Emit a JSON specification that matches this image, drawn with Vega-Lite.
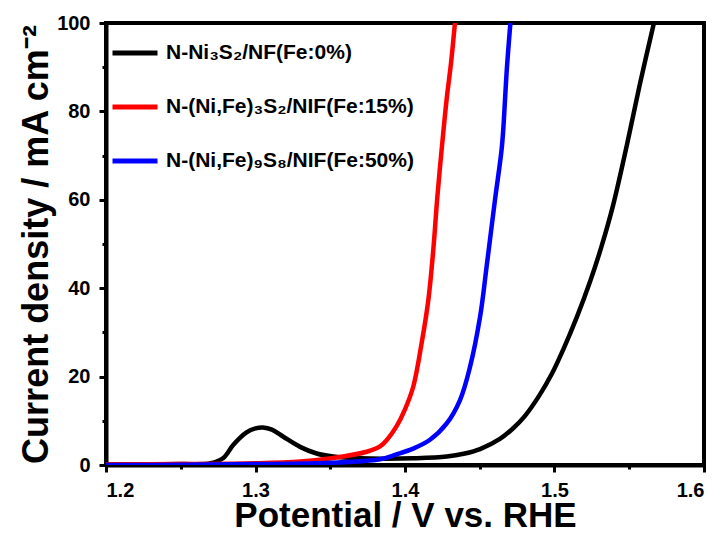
{
  "$schema": "https://vega.github.io/schema/vega-lite/v6.json",
  "autosize": "none",
  "width": 598,
  "height": 442,
  "padding": {"left": 106, "top": 23, "right": 17, "bottom": 68},
  "background": "white",
  "config": {
    "view": {"stroke": "black", "strokeWidth": 4},
    "font": "Liberation Sans",
    "axis": {
      "grid": false,
      "domainColor": "black",
      "domainWidth": 4,
      "tickColor": "black",
      "tickWidth": 3,
      "labelFont": "Liberation Sans",
      "labelFontWeight": "bold",
      "labelFontSize": 20,
      "labelColor": "black",
      "titleFont": "Liberation Sans",
      "titleFontWeight": "bold",
      "titleFontSize": 36,
      "titleColor": "black"
    },
    "legend": {
      "labelFont": "Liberation Sans",
      "labelFontWeight": "bold",
      "labelFontSize": 21,
      "labelColor": "black",
      "labelLimit": 400
    }
  },
  "data": {
    "values": [
      {"s": "N-Ni₃S₂/NF(Fe:0%)", "v": 1.20, "j": 0.1},
      {"s": "N-Ni₃S₂/NF(Fe:0%)", "v": 1.25, "j": 0.2},
      {"s": "N-Ni₃S₂/NF(Fe:0%)", "v": 1.27, "j": 0.4},
      {"s": "N-Ni₃S₂/NF(Fe:0%)", "v": 1.2785, "j": 1.6},
      {"s": "N-Ni₃S₂/NF(Fe:0%)", "v": 1.2852, "j": 4.6},
      {"s": "N-Ni₃S₂/NF(Fe:0%)", "v": 1.294, "j": 7.4},
      {"s": "N-Ni₃S₂/NF(Fe:0%)", "v": 1.30, "j": 8.3},
      {"s": "N-Ni₃S₂/NF(Fe:0%)", "v": 1.305, "j": 8.5},
      {"s": "N-Ni₃S₂/NF(Fe:0%)", "v": 1.311, "j": 8.0},
      {"s": "N-Ni₃S₂/NF(Fe:0%)", "v": 1.3186, "j": 6.4},
      {"s": "N-Ni₃S₂/NF(Fe:0%)", "v": 1.3298, "j": 4.1},
      {"s": "N-Ni₃S₂/NF(Fe:0%)", "v": 1.3409, "j": 2.6},
      {"s": "N-Ni₃S₂/NF(Fe:0%)", "v": 1.352, "j": 1.9},
      {"s": "N-Ni₃S₂/NF(Fe:0%)", "v": 1.37, "j": 1.5},
      {"s": "N-Ni₃S₂/NF(Fe:0%)", "v": 1.385, "j": 1.4},
      {"s": "N-Ni₃S₂/NF(Fe:0%)", "v": 1.4055, "j": 1.5},
      {"s": "N-Ni₃S₂/NF(Fe:0%)", "v": 1.4279, "j": 1.9},
      {"s": "N-Ni₃S₂/NF(Fe:0%)", "v": 1.44, "j": 2.6},
      {"s": "N-Ni₃S₂/NF(Fe:0%)", "v": 1.4502, "j": 3.6},
      {"s": "N-Ni₃S₂/NF(Fe:0%)", "v": 1.4635, "j": 5.9},
      {"s": "N-Ni₃S₂/NF(Fe:0%)", "v": 1.472, "j": 8.2},
      {"s": "N-Ni₃S₂/NF(Fe:0%)", "v": 1.48, "j": 11.0},
      {"s": "N-Ni₃S₂/NF(Fe:0%)", "v": 1.49, "j": 15.8},
      {"s": "N-Ni₃S₂/NF(Fe:0%)", "v": 1.4985, "j": 20.8},
      {"s": "N-Ni₃S₂/NF(Fe:0%)", "v": 1.5057, "j": 26},
      {"s": "N-Ni₃S₂/NF(Fe:0%)", "v": 1.515, "j": 33.5},
      {"s": "N-Ni₃S₂/NF(Fe:0%)", "v": 1.5238, "j": 41.5},
      {"s": "N-Ni₃S₂/NF(Fe:0%)", "v": 1.5315, "j": 49.5},
      {"s": "N-Ni₃S₂/NF(Fe:0%)", "v": 1.539, "j": 58.5},
      {"s": "N-Ni₃S₂/NF(Fe:0%)", "v": 1.5485, "j": 72.5},
      {"s": "N-Ni₃S₂/NF(Fe:0%)", "v": 1.557, "j": 86},
      {"s": "N-Ni₃S₂/NF(Fe:0%)", "v": 1.5665, "j": 100},

      {"s": "N-(Ni,Fe)₃S₂/NIF(Fe:15%)", "v": 1.20, "j": 0.1},
      {"s": "N-(Ni,Fe)₃S₂/NIF(Fe:15%)", "v": 1.25, "j": 0.2},
      {"s": "N-(Ni,Fe)₃S₂/NIF(Fe:15%)", "v": 1.30, "j": 0.4},
      {"s": "N-(Ni,Fe)₃S₂/NIF(Fe:15%)", "v": 1.33, "j": 0.8},
      {"s": "N-(Ni,Fe)₃S₂/NIF(Fe:15%)", "v": 1.352, "j": 1.6},
      {"s": "N-(Ni,Fe)₃S₂/NIF(Fe:15%)", "v": 1.3744, "j": 3.0},
      {"s": "N-(Ni,Fe)₃S₂/NIF(Fe:15%)", "v": 1.3833, "j": 4.2},
      {"s": "N-(Ni,Fe)₃S₂/NIF(Fe:15%)", "v": 1.3877, "j": 5.6},
      {"s": "N-(Ni,Fe)₃S₂/NIF(Fe:15%)", "v": 1.3944, "j": 8.8},
      {"s": "N-(Ni,Fe)₃S₂/NIF(Fe:15%)", "v": 1.4000, "j": 12.6},
      {"s": "N-(Ni,Fe)₃S₂/NIF(Fe:15%)", "v": 1.4055, "j": 17.7},
      {"s": "N-(Ni,Fe)₃S₂/NIF(Fe:15%)", "v": 1.4111, "j": 27.5},
      {"s": "N-(Ni,Fe)₃S₂/NIF(Fe:15%)", "v": 1.4156, "j": 37.3},
      {"s": "N-(Ni,Fe)₃S₂/NIF(Fe:15%)", "v": 1.4189, "j": 48.6},
      {"s": "N-(Ni,Fe)₃S₂/NIF(Fe:15%)", "v": 1.4216, "j": 60.5},
      {"s": "N-(Ni,Fe)₃S₂/NIF(Fe:15%)", "v": 1.4245, "j": 71.3},
      {"s": "N-(Ni,Fe)₃S₂/NIF(Fe:15%)", "v": 1.4278, "j": 82.6},
      {"s": "N-(Ni,Fe)₃S₂/NIF(Fe:15%)", "v": 1.4308, "j": 91},
      {"s": "N-(Ni,Fe)₃S₂/NIF(Fe:15%)", "v": 1.4334, "j": 100},

      {"s": "N-(Ni,Fe)₉S₈/NIF(Fe:50%)", "v": 1.20, "j": 0.0},
      {"s": "N-(Ni,Fe)₉S₈/NIF(Fe:50%)", "v": 1.25, "j": 0.05},
      {"s": "N-(Ni,Fe)₉S₈/NIF(Fe:50%)", "v": 1.30, "j": 0.2},
      {"s": "N-(Ni,Fe)₉S₈/NIF(Fe:50%)", "v": 1.35, "j": 0.5},
      {"s": "N-(Ni,Fe)₉S₈/NIF(Fe:50%)", "v": 1.3833, "j": 1.3},
      {"s": "N-(Ni,Fe)₉S₈/NIF(Fe:50%)", "v": 1.3944, "j": 2.4},
      {"s": "N-(Ni,Fe)₉S₈/NIF(Fe:50%)", "v": 1.4055, "j": 3.7},
      {"s": "N-(Ni,Fe)₉S₈/NIF(Fe:50%)", "v": 1.4167, "j": 5.7},
      {"s": "N-(Ni,Fe)₉S₈/NIF(Fe:50%)", "v": 1.4279, "j": 9.4},
      {"s": "N-(Ni,Fe)₉S₈/NIF(Fe:50%)", "v": 1.4368, "j": 14.7},
      {"s": "N-(Ni,Fe)₉S₈/NIF(Fe:50%)", "v": 1.4435, "j": 22.2},
      {"s": "N-(Ni,Fe)₉S₈/NIF(Fe:50%)", "v": 1.4502, "j": 33.5},
      {"s": "N-(Ni,Fe)₉S₈/NIF(Fe:50%)", "v": 1.4546, "j": 44.9},
      {"s": "N-(Ni,Fe)₉S₈/NIF(Fe:50%)", "v": 1.4602, "j": 60},
      {"s": "N-(Ni,Fe)₉S₈/NIF(Fe:50%)", "v": 1.4646, "j": 71.3},
      {"s": "N-(Ni,Fe)₉S₈/NIF(Fe:50%)", "v": 1.4660, "j": 77.3},
      {"s": "N-(Ni,Fe)₉S₈/NIF(Fe:50%)", "v": 1.468, "j": 89},
      {"s": "N-(Ni,Fe)₉S₈/NIF(Fe:50%)", "v": 1.4705, "j": 100}
    ]
  },
  "mark": {"type": "line", "strokeWidth": 4.5, "clip": true, "interpolate": "catmull-rom"},
  "encoding": {
    "x": {
      "field": "v",
      "type": "quantitative",
      "scale": {"domain": [1.2, 1.6], "nice": false, "zero": false},
      "axis": {
        "title": "Potential / V vs. RHE",
        "values": [1.2, 1.25, 1.3, 1.35, 1.4, 1.45, 1.5, 1.55, 1.6],
        "labelExpr": "abs(datum.value*10 - round(datum.value*10)) < 0.01 ? format(datum.value, '.1f') : ''",
        "tickSize": {"condition": {"test": "abs(datum.value*10 - round(datum.value*10)) > 0.01", "value": 4}, "value": 7},
        "labelPadding": 8,
        "titlePadding": -2,
        "titleFontSize": 35
      }
    },
    "y": {
      "field": "j",
      "type": "quantitative",
      "scale": {"domain": [0, 100], "nice": false},
      "axis": {
        "title": "Current density / mA cm⁻²",
        "values": [0, 10, 20, 30, 40, 50, 60, 70, 80, 90, 100],
        "labelExpr": "datum.value % 20 == 0 ? datum.label : ''",
        "tickSize": {"condition": {"test": "datum.value % 20 != 0", "value": 4}, "value": 7},
        "labelPadding": 9,
        "titlePadding": 1
      }
    },
    "color": {
      "field": "s",
      "type": "nominal",
      "sort": ["N-Ni₃S₂/NF(Fe:0%)", "N-(Ni,Fe)₃S₂/NIF(Fe:15%)", "N-(Ni,Fe)₉S₈/NIF(Fe:50%)"],
      "scale": {
        "domain": ["N-Ni₃S₂/NF(Fe:0%)", "N-(Ni,Fe)₃S₂/NIF(Fe:15%)", "N-(Ni,Fe)₉S₈/NIF(Fe:50%)"],
        "range": ["#000000", "#ff0000", "#0000ff"]
      },
      "legend": {
        "title": null,
        "orient": "none",
        "legendX": 4,
        "legendY": 5,
        "padding": 0,
        "symbolType": "stroke",
        "symbolSize": 2025,
        "symbolStrokeWidth": 5,
        "rowPadding": 19,
        "labelOffset": 6
      }
    }
  }
}
